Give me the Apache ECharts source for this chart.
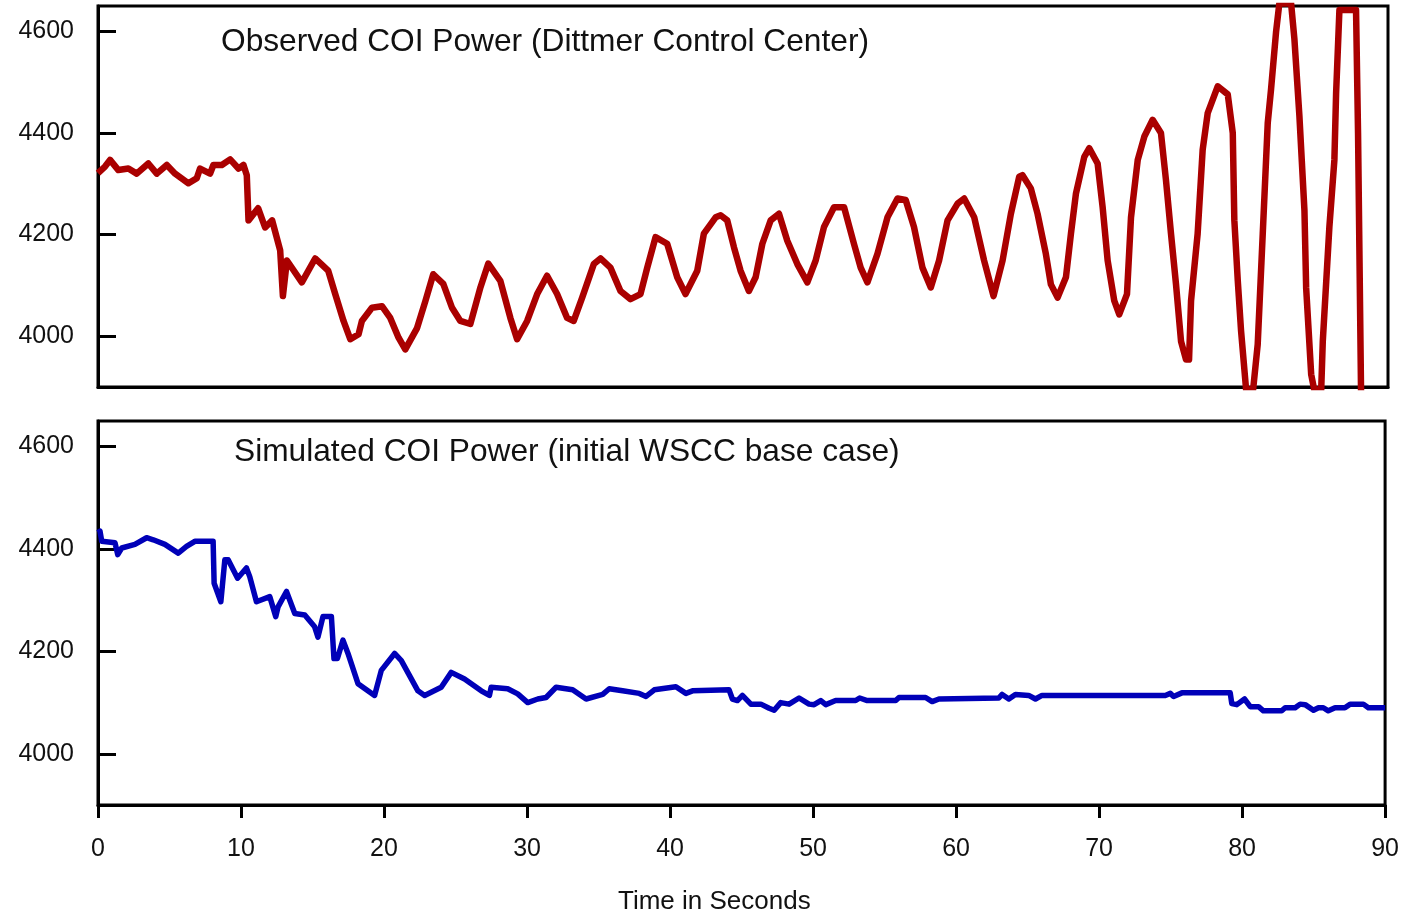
<!DOCTYPE html>
<html>
<head>
<meta charset="utf-8">
<title>COI Power</title>
<script src="https://cdn.jsdelivr.net/npm/echarts@6/dist/echarts.min.js"></script>
<style>
html, body { margin: 0; padding: 0; background: #fff; }
#chart { width: 1402px; height: 913px; }
</style>
</head>
<body>
<div id="chart"></div>
<script>
// observed COI power (top panel), time in s / power in MW
var obsTime = [0, 0.49, 0.84, 1.42, 2.12, 2.70, 3.51, 4.10, 4.80, 5.38, 6.31, 6.89, 7.12, 7.82, 8.05, 8.64, 9.22, 9.80, 10.15, 10.38,
	10.50, 11.17, 11.66, 12.15, 12.71, 12.90, 13.18, 14.22, 15.15, 16.06, 16.55, 17.13, 17.60, 18.18, 18.41, 19.11, 19.81, 20.39, 20.97, 21.44,
	22.26, 22.84, 23.39, 24.09, 24.70, 25.28, 25.98, 26.68, 27.23, 28.07, 28.77, 29.24, 29.94, 30.64, 31.33, 32.03, 32.73, 33.19, 33.78, 34.59,
	35.06, 35.75, 36.45, 37.15, 37.85, 38.32, 38.90, 39.71, 40.41, 40.99, 41.81, 42.27, 43.09, 43.44, 43.90, 44.37, 44.83, 45.41, 45.88, 46.35,
	46.93, 47.51, 48.09, 48.79, 49.49, 50.07, 50.65, 51.35, 52.05, 52.74, 53.21, 53.68, 54.38, 55.08, 55.78, 56.35, 56.93, 57.52, 58.10, 58.68,
	59.27, 59.97, 60.43, 61.13, 61.82, 62.48, 63.11, 63.69, 64.27, 64.50, 65.08, 65.55, 66.13, 66.48, 66.95, 67.53, 67.88, 68.23, 68.81, 69.16,
	69.74, 70.09, 70.44, 70.90, 71.25, 71.79, 72.07, 72.54, 73.00, 73.58, 74.16, 74.51, 74.86, 75.21, 75.56, 75.91, 76.12, 76.26, 76.72, 77.07,
	77.42, 78.12, 78.82, 79.17, 79.28, 79.52, 79.75, 80.10, 80.59, 80.91, 81.26, 81.61, 81.84, 82.19, 82.42, 83.24, 83.47, 83.82, 84.17, 84.29,
	84.64, 84.85, 85.34, 85.45, 85.91, 86.26, 86.38, 86.61, 87.77, 87.91, 88.12];
var obsPower = [4321, 4334, 4347, 4327, 4330, 4320, 4340, 4320, 4337, 4320, 4301, 4311, 4330, 4320, 4337, 4337, 4348, 4330, 4337, 4317,
	4228, 4252, 4214, 4228, 4169, 4079, 4149, 4106, 4153, 4129, 4083, 4030, 3994, 4004, 4030, 4056, 4059, 4036, 3997, 3974,
	4016, 4069, 4122, 4103, 4056, 4030, 4024, 4096, 4143, 4109, 4036, 3994, 4030, 4083, 4119, 4083, 4036, 4030, 4076, 4142,
	4153, 4135, 4089, 4073, 4083, 4135, 4195, 4182, 4116, 4083, 4129, 4202, 4234, 4238, 4228, 4175, 4129, 4089, 4116, 4182,
	4228, 4241, 4188, 4142, 4106, 4149, 4215, 4254, 4254, 4182, 4135, 4106, 4162, 4234, 4271, 4268, 4215, 4135, 4096, 4149,
	4228, 4261, 4271, 4234, 4149, 4079, 4149, 4241, 4314, 4317, 4291, 4241, 4162, 4102, 4076, 4116, 4202, 4281, 4353, 4370,
	4340, 4254, 4149, 4070, 4043, 4083, 4234, 4347, 4393, 4426, 4400, 4307, 4202, 4102, 3990, 3954, 3954, 4070, 4202, 4367,
	4439, 4492, 4476, 4400, 4228, 4109, 4010, 3895, 3895, 3984, 4201, 4420, 4486, 4599, 4655, 4655, 4585, 4433, 4248, 4095,
	3925, 3895, 3895, 3990, 4215, 4347, 4479, 4642, 4642, 4400, 3890];

// simulated COI power (bottom panel)
var simTime = [0, 0.14, 0.26, 1.19, 1.38, 1.66, 2.58, 3.40, 3.86, 4.68, 5.61, 6.19, 6.77, 8.05, 8.12, 8.59, 8.87, 9.10, 9.76, 10.38,
	10.61, 11.08, 12.01, 12.43, 12.59, 13.18, 13.76, 14.46, 15.15, 15.38, 15.73, 16.32, 16.50, 16.74, 17.13, 17.48, 18.18, 19.34, 19.81, 20.74,
	21.21, 22.37, 22.84, 24.00, 24.70, 25.63, 26.80, 27.37, 27.49, 28.65, 29.35, 30.05, 30.75, 31.33, 32.03, 33.19, 34.13, 35.29, 35.75, 36.68,
	37.85, 38.32, 38.90, 40.41, 41.11, 41.57, 44.13, 44.36, 44.71, 45.06, 45.65, 46.35, 46.93, 47.28, 47.74, 48.32, 49.02, 49.72, 50.07, 50.54,
	50.89, 51.58, 52.98, 53.26, 53.79, 55.78, 56.01, 57.87, 58.33, 58.80, 62.99, 63.22, 63.69, 64.15, 65.08, 65.55, 66.01, 74.63, 74.98, 75.21,
	75.79, 79.17, 79.28, 79.63, 80.17, 80.57, 81.15, 81.49, 82.77, 83.01, 83.71, 84.06, 84.41, 84.99, 85.34, 85.68, 86.03, 86.50, 87.19, 87.55,
	88.48, 88.83, 90];
var simPower = [4432, 4435, 4415, 4412, 4389, 4402, 4409, 4422, 4418, 4409, 4392, 4405, 4415, 4415, 4333, 4297, 4379, 4379, 4343, 4363,
	4346, 4297, 4307, 4268, 4287, 4317, 4274, 4271, 4248, 4228, 4268, 4268, 4186, 4186, 4222, 4196, 4137, 4114, 4163, 4196,
	4182, 4123, 4114, 4130, 4159, 4146, 4123, 4114, 4130, 4127, 4117, 4100, 4107, 4110, 4130, 4125, 4107, 4116, 4127, 4123,
	4118, 4112, 4125, 4131, 4118, 4123, 4125, 4107, 4104, 4114, 4097, 4097, 4089, 4085, 4100, 4097, 4109, 4097, 4096, 4104,
	4096, 4104, 4104, 4109, 4104, 4104, 4110, 4110, 4102, 4107, 4109, 4116, 4107, 4116, 4114, 4107, 4114, 4114, 4118, 4112,
	4119, 4119, 4098, 4096, 4107, 4092, 4092, 4084, 4084, 4090, 4090, 4097, 4096, 4085, 4090, 4090, 4084, 4090, 4090, 4097,
	4097, 4090, 4090];

var powerTicks = [4000, 4200, 4400, 4600];
var timeTicks = [0, 10, 20, 30, 40, 50, 60, 70, 80, 90];

function pairs(xs, ys) {
	var out = [];
	for (var i = 0; i < xs.length; i++) {
		out.push([xs[i], ys[i]]);
	}
	return out;
}

var font = "'Liberation Sans', Arial, sans-serif";
var ink = '#111';

function yAxis(gridIndex) {
	return {
		type: 'value',
		gridIndex: gridIndex,
		min: 3900,
		max: 4650,
		axisLine: { show: true, lineStyle: { color: '#000', width: 3 } },
		axisTick: { show: true, inside: true, length: 18, customValues: powerTicks, lineStyle: { color: '#000', width: 3 } },
		axisLabel: {
			customValues: powerTicks, margin: 24, fontSize: 25, color: ink, fontFamily: font,
			formatter: function(v) { return String(v); }
		},
		splitLine: { show: false }
	};
}

var chart = echarts.init(document.getElementById('chart'));
chart.setOption({
	animation: false,
	backgroundColor: '#fff',
	grid: [
		{ left: 98, right: 14, top: 6, height: 381, show: true, borderColor: '#000', borderWidth: 3 },
		{ left: 98, right: 14, top: 421, height: 384, show: true, borderColor: '#000', borderWidth: 3 }
	],
	xAxis: [{
		type: 'value',
		gridIndex: 0,
		min: 0,
		max: 90,
		interval: 10,
		axisLine: { show: true, lineStyle: { color: '#000', width: 3 } },
		axisTick: { show: false },
		axisLabel: { show: false },
		splitLine: { show: false }
	}, {
		type: 'value',
		gridIndex: 1,
		min: 0,
		max: 90,
		interval: 10,
		axisLine: { show: true, lineStyle: { color: '#000', width: 3 } },
		axisTick: { show: true, length: 13, customValues: timeTicks, lineStyle: { color: '#000', width: 3 } },
		axisLabel: { margin: 32, fontSize: 25, color: ink, fontFamily: font },
		splitLine: { show: false }
	}],
	yAxis: [yAxis(0), yAxis(1)],
	graphic: [{
		type: 'text',
		left: 221,
		top: 26,
		style: { text: 'Observed COI Power (Dittmer Control Center)', fontSize: 31.7, fill: ink, fontFamily: font }
	}, {
		type: 'text',
		left: 234,
		top: 436,
		style: { text: 'Simulated COI Power (initial WSCC base case)', fontSize: 31.7, fill: ink, fontFamily: font }
	}, {
		type: 'text',
		left: 618,
		top: 889,
		style: { text: 'Time in Seconds', fontSize: 26, fill: ink, fontFamily: font }
	}],
	series: [{
		name: 'Observed',
		type: 'line',
		xAxisIndex: 0,
		yAxisIndex: 0,
		showSymbol: false,
		symbol: 'none',
		lineStyle: { color: '#aa0000', width: 6.5, join: 'round' },
		data: pairs(obsTime, obsPower)
	}, {
		name: 'Simulated',
		type: 'line',
		xAxisIndex: 1,
		yAxisIndex: 1,
		showSymbol: false,
		symbol: 'none',
		lineStyle: { color: '#0000b8', width: 5.5, join: 'round' },
		data: pairs(simTime, simPower)
	}]
});
</script>
</body>
</html>
